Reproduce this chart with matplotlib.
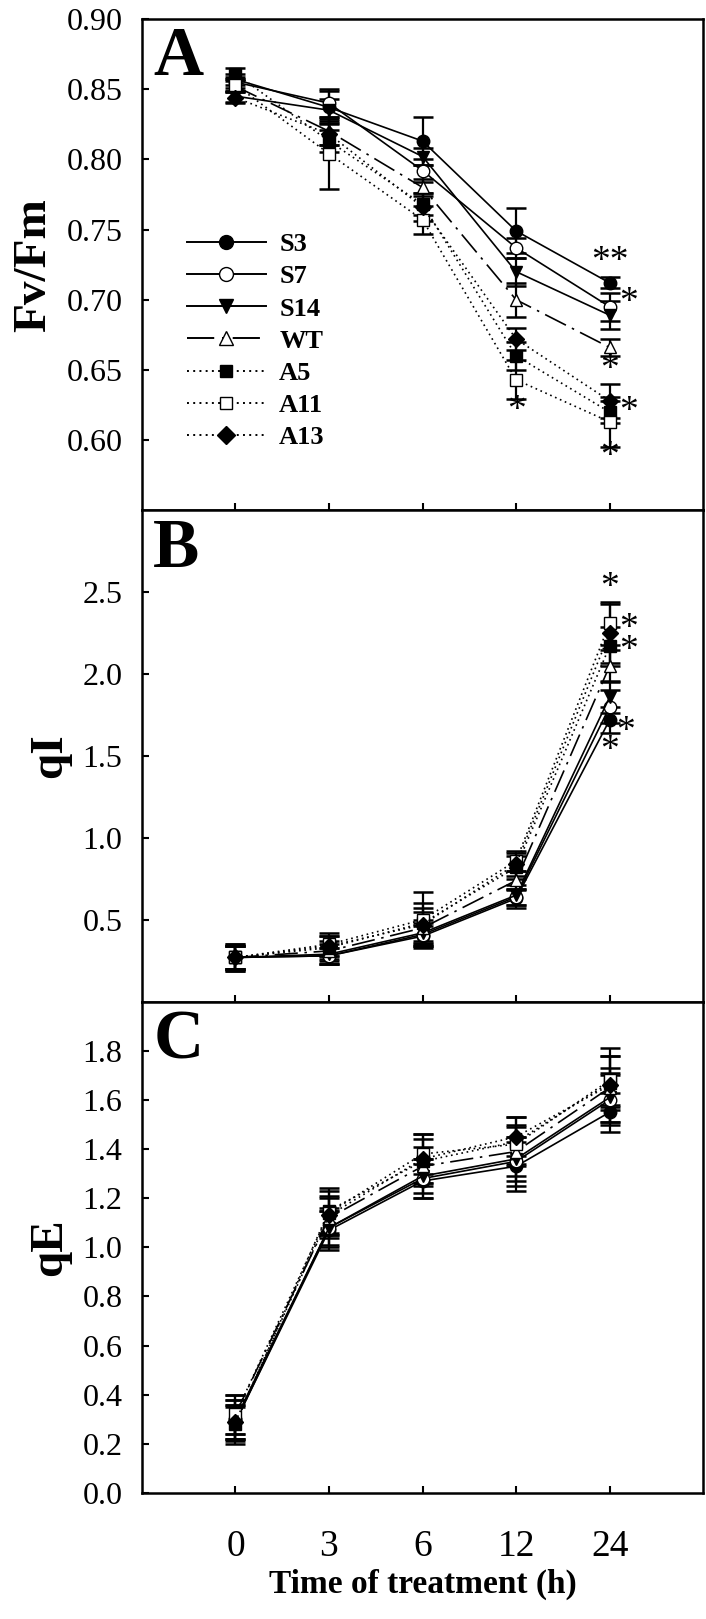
import numpy as np
import matplotlib
matplotlib.use('Agg')
import matplotlib.pyplot as plt
from matplotlib.lines import Line2D

plt.rcParams['font.family'] = 'Liberation Serif'
plt.rcParams['axes.linewidth'] = 1.8

times = ['0', '3', '6', '12', '24']
lines_ = ['S3', 'S7', 'S14', 'WT', 'A5', 'A11', 'A13']

# Fv/Fm
fvfm = {
    'S3':  [0.857, 0.837, 0.813, 0.749, 0.712],
    'S7':  [0.855, 0.840, 0.792, 0.737, 0.695],
    'S14': [0.845, 0.835, 0.802, 0.720, 0.689],
    'WT':  [0.852, 0.820, 0.780, 0.700, 0.666],
    'A5':  [0.861, 0.813, 0.768, 0.660, 0.620],
    'A11': [0.853, 0.804, 0.757, 0.643, 0.613],
    'A13': [0.844, 0.818, 0.766, 0.672, 0.628],
}
fvfm_err = {
    'S3':  [0.004, 0.012, 0.017, 0.016, 0.004],
    'S7':  [0.004, 0.010, 0.008, 0.007, 0.010],
    'S14': [0.004, 0.008, 0.006, 0.010, 0.010],
    'WT':  [0.004, 0.010, 0.006, 0.012, 0.006],
    'A5':  [0.004, 0.008, 0.008, 0.010, 0.008],
    'A11': [0.004, 0.025, 0.010, 0.014, 0.018],
    'A13': [0.004, 0.008, 0.010, 0.008, 0.012],
}

# qI
qi = {
    'S3':  [0.27, 0.28, 0.40, 0.63, 1.72],
    'S7':  [0.27, 0.28, 0.41, 0.64, 1.80],
    'S14': [0.27, 0.29, 0.42, 0.65, 1.86],
    'WT':  [0.27, 0.31, 0.45, 0.74, 2.05],
    'A5':  [0.27, 0.33, 0.48, 0.82, 2.17],
    'A11': [0.27, 0.35, 0.50, 0.86, 2.31],
    'A13': [0.27, 0.34, 0.47, 0.84, 2.25],
}
qi_err = {
    'S3':  [0.07, 0.05, 0.06, 0.06, 0.08],
    'S7':  [0.07, 0.05, 0.07, 0.05, 0.10],
    'S14': [0.07, 0.06, 0.08, 0.06, 0.10],
    'WT':  [0.07, 0.06, 0.10, 0.06, 0.10],
    'A5':  [0.08, 0.07, 0.12, 0.07, 0.12],
    'A11': [0.08, 0.07, 0.17, 0.06, 0.13],
    'A13': [0.07, 0.06, 0.10, 0.07, 0.18],
}

# qE
qe = {
    'S3':  [0.29, 1.07, 1.27, 1.33, 1.55],
    'S7':  [0.30, 1.08, 1.28, 1.35, 1.60],
    'S14': [0.29, 1.08, 1.29, 1.36, 1.61],
    'WT':  [0.32, 1.12, 1.33, 1.39, 1.65],
    'A5':  [0.28, 1.15, 1.35, 1.43, 1.67],
    'A11': [0.32, 1.14, 1.38, 1.42, 1.68],
    'A13': [0.29, 1.13, 1.36, 1.45, 1.66],
}
qe_err = {
    'S3':  [0.07, 0.08, 0.07, 0.10, 0.08],
    'S7':  [0.08, 0.08, 0.08, 0.10, 0.10],
    'S14': [0.07, 0.07, 0.07, 0.09, 0.10],
    'WT':  [0.08, 0.08, 0.08, 0.10, 0.08],
    'A5':  [0.07, 0.09, 0.09, 0.10, 0.11],
    'A11': [0.08, 0.09, 0.08, 0.08, 0.10],
    'A13': [0.09, 0.08, 0.10, 0.08, 0.15],
}

# significance marks (x index, y value, text)
stars_a = [(4.0, 0.727, '**'), (4.2, 0.698, '*'), (4.0, 0.650, '*'),
           (4.2, 0.620, '*'), (4.0, 0.588, '*'), (3.0, 0.621, '*')]
stars_b = [(4.0, 2.53, '*'), (4.2, 2.21, '*\n*'),
           (4.17, 1.65, '*'), (4.0, 1.53, '*')]

dotted = (0, (1, 2.2))
style = {
    'S3':  dict(marker='o', mfc='black', ls='-'),
    'S7':  dict(marker='o', mfc='white', ls='-'),
    'S14': dict(marker='v', mfc='black', ls='-'),
    'WT':  dict(marker='^', mfc='white', ls=(0, (14, 4, 1.5, 4))),
    'A5':  dict(marker='s', mfc='black', ls=dotted),
    'A11': dict(marker='s', mfc='white', ls=dotted),
    'A13': dict(marker='D', mfc='black', ls=dotted),
}

fig = plt.figure(figsize=(7.06, 16.19), dpi=100)
left, width = 0.201, 0.795
h = 0.3035
bottoms = [0.0778 + 2 * h, 0.0778 + h, 0.0778]
axes = [fig.add_axes([left, b, width, h]) for b in bottoms]

x = np.arange(len(times))
panels = [(fvfm, fvfm_err), (qi, qi_err), (qe, qe_err)]

legend_handles = []
for name in lines_:
    st = style[name]
    st['ms'] = 8 if st['marker'] in ('s', 'D') else 9
    legend_handles.append(Line2D([], [], color='black', marker=st['marker'],
                                 mfc=st['mfc'], mec='black', ms=st['ms'] + 1,
                                 ls=st['ls'], lw=1.4))

for ax, (vals, errs) in zip(axes, panels):
    for name in lines_:
        st = style[name]
        ax.errorbar(x, vals[name], yerr=errs[name], color='black',
                    marker=st['marker'], mfc=st['mfc'], mec='black',
                    ms=st['ms'], ls=st['ls'], lw=1.2, elinewidth=1.6,
                    capsize=7, capthick=1.8)
    ax.set_xlim(-1, 5)
    ax.set_xticks(x)
    ax.tick_params(direction='in', length=5, width=1.5, labelsize=23,
                   right=False, top=False)
    ax.tick_params(axis='y', pad=14)

for ax in axes[:2]:
    ax.tick_params(axis='x', labelbottom=False)
axes[2].set_xticklabels(times)
axes[2].tick_params(axis='x', pad=26, labelsize=27)

axes[0].set_ylim(0.55, 0.90)
axes[0].set_yticks([0.60, 0.65, 0.70, 0.75, 0.80, 0.85, 0.90])
axes[0].set_yticklabels(['%.2f' % v for v in axes[0].get_yticks()])
axes[1].set_ylim(0, 3.0)
axes[1].set_yticks([0.5, 1.0, 1.5, 2.0, 2.5])
axes[1].set_yticklabels(['%.1f' % v for v in axes[1].get_yticks()])
axes[2].set_ylim(0, 2.0)
axes[2].set_yticks(np.arange(0, 1.81, 0.2))
axes[2].set_yticklabels(['%.1f' % v for v in axes[2].get_yticks()])

ylabels = ['Fv/Fm', 'qI', 'qE']
for ax, lab, letter in zip(axes, ylabels, ['A', 'B', 'C']):
    ax.set_ylabel(lab, fontsize=34, fontweight='bold', labelpad=8)
    ax.text(0.02, 0.985, letter, transform=ax.transAxes, fontsize=50,
            fontweight='bold', ha='left', va='top')

axes[2].set_xlabel('Time of treatment (h)', fontsize=24, fontweight='bold',
                   labelpad=4)

for xs, ys, t in stars_a:
    axes[0].text(xs, ys, t, fontsize=27, ha='center', va='center')
for xs, ys, t in stars_b:
    axes[1].text(xs, ys, t, fontsize=27, ha='center', va='center',
                 linespacing=0.55)

axes[0].legend(legend_handles, lines_, loc='upper left',
               bbox_to_anchor=(0.08, 0.565), frameon=False,
               prop={'family': 'Liberation Serif', 'weight': 'bold', 'size': 19},
               handlelength=3.0, handletextpad=0.5, labelspacing=0.33,
               borderpad=0, borderaxespad=0)

fig.savefig('out.png', dpi=100)
